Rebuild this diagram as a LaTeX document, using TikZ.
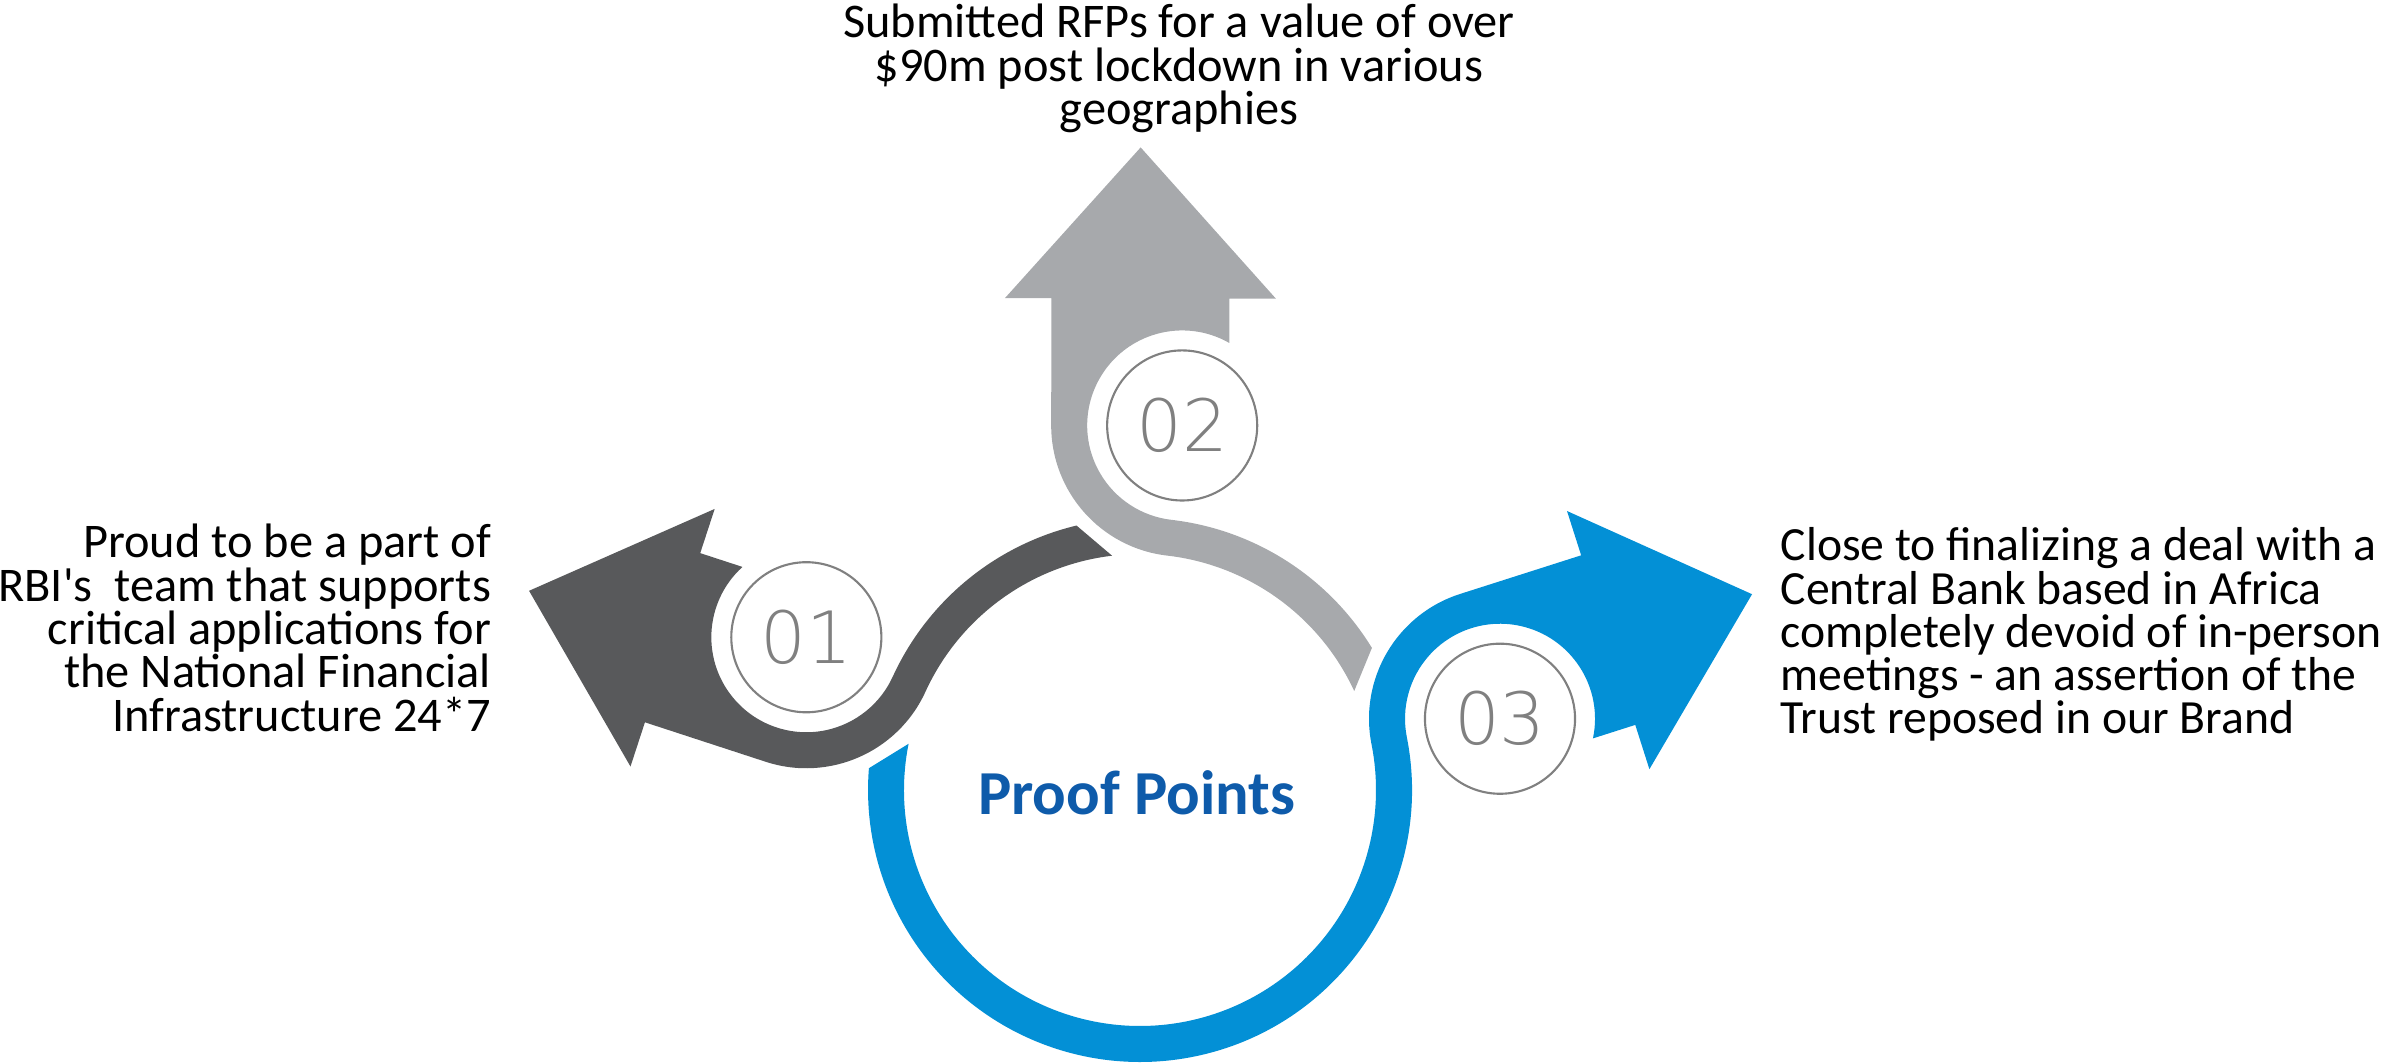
\documentclass[tikz,border=0pt]{standalone}
\usepackage{fontspec}
\setmainfont{Carlito}[Ligatures=TeXOff]
\newfontfamily\numfont{DejaVuSans-ExtraLight.ttf}
\usepackage{tikz}
\usetikzlibrary{calc}
\definecolor{armslate}{RGB}{88,89,91}
\definecolor{armsilver}{RGB}{167,169,172}
\definecolor{armblue}{RGB}{3,144,214}
\definecolor{titleblue}{RGB}{14,91,170}
\definecolor{ringgray}{RGB}{128,128,128}
\tikzstyle{numring} = [
    circle,
    draw = ringgray,
    line width = 0.6pt,
    minimum size = 1.5cm,
    inner sep = 0pt,
    text = ringgray,
    font = \numfont\fontsize{20.5}{20.5}\selectfont
]
\tikzstyle{blurb} = [
    inner sep = 0pt,
    font = {\fontsize{13.75}{12.3}\selectfont\lineskiplimit-10pt\relax}
]

\begin{document}
\begin{tikzpicture}[x=0.01cm, y=0.01cm]
        \useasboundingbox (0,0) rectangle (2381,-1063);

        %% Hub and circle centres
        \coordinate (hub) at (1140,-790);
        \coordinate (c1) at ($(hub)+(155.4:367)$);
        \coordinate (c2) at ($(hub)+(83.4:367)$);
        \coordinate (c3) at ($(hub)+(11.2:367)$);

        %% Arm 01
        \begin{scope}[shift={(hub)}, rotate=155.4]
        \fill[armslate] (-58.6:236) arc[start angle=-58.6, end angle=0, radius=236]
            arc[start angle=180, end angle=96.5, radius=131]
            -- (478.35,144.54) -- (473.09,190.74) -- (638.45,73.2)
            -- (503.76,-78.52) -- (498.5,-32.32) -- (454.36,-37.35)
            arc[start angle=-23.15, end angle=180, radius=95]
            arc[start angle=0, end angle=-51.9, radius=272] -- cycle;
        \end{scope}

        %% Arm 02
        \begin{scope}[shift={(hub)}, rotate=83.4]
        \fill[armsilver] (-58.6:236) arc[start angle=-58.6, end angle=0, radius=236]
            arc[start angle=180, end angle=96.5, radius=131]
            -- (478.35,144.54) -- (473.09,190.74) -- (638.45,73.2)
            -- (503.76,-78.52) -- (498.5,-32.32) -- (454.36,-37.35)
            arc[start angle=-23.15, end angle=180, radius=95]
            arc[start angle=0, end angle=-51.9, radius=272] -- cycle;
        \end{scope}

        %% Arm 03 with the ring
        \begin{scope}[shift={(hub)}, rotate=11.2]
        \fill[armblue] (-202.5:236) arc[start angle=-202.5, end angle=0, radius=236]
            arc[start angle=180, end angle=96.5, radius=131]
            -- (478.35,144.54) -- (473.09,190.74) -- (638.45,73.2)
            -- (503.76,-78.52) -- (498.5,-32.32) -- (454.36,-37.35)
            arc[start angle=-23.15, end angle=180, radius=95]
            arc[start angle=0, end angle=-195.8, radius=272] -- cycle;
        \end{scope}

        %% Numbers
        \node (n1) [numring] at (c1) {01};
        \node (n2) [numring] at (c2) {02};
        \node (n3) [numring] at (c3) {03};

        %% Title
        \node (title) [anchor=base, inner sep=0pt, text=titleblue, font=\bfseries\fontsize{17.8}{17.8}\selectfont] at (1136.7,-814) {Proof Points};

        %% Texts
        \node (left) [blurb, anchor=north east, align=right] at (491.7,-523.7) {Proud to be a part of\\RBI's\ \ team that supports\\critical applications for\\the National Financial\\Infrastructure 24*7};
        \node (top) [blurb, anchor=north, align=center] at (1179,-3.5) {Submitted RFPs for a value of over\\\$90m post lockdown in various\\geographies};
        \node (right) [blurb, anchor=north west, align=left, font={\fontsize{13.55}{12.3}\selectfont\lineskiplimit-10pt\relax}] at (1780,-527) {Close to finalizing a deal with a\\Central Bank based in Africa\\completely devoid of in-person\\meetings - an assertion of the\\Trust reposed in our Brand};

    \end{tikzpicture}
\end{document}
